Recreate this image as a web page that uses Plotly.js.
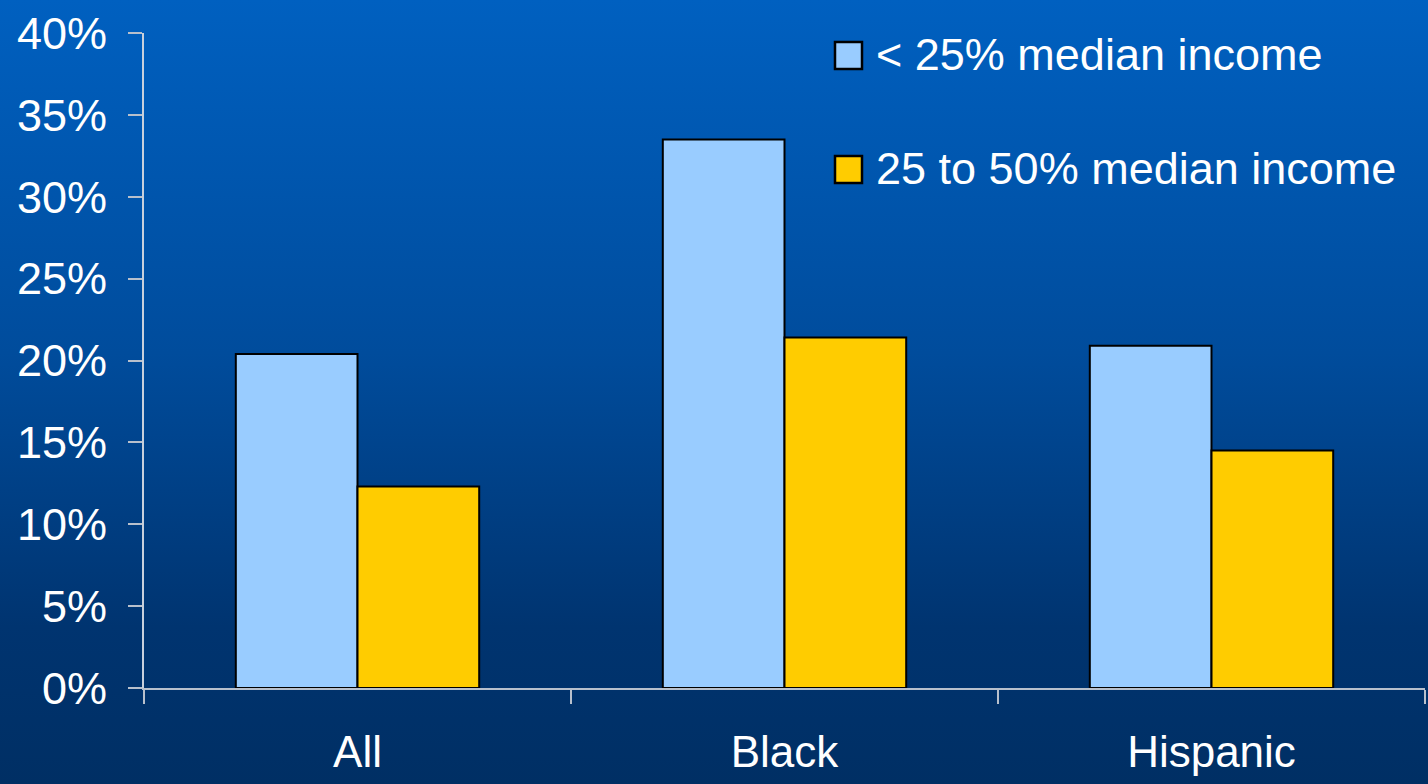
<!DOCTYPE html>
<html>
<head>
<meta charset="utf-8">
<script src="https://cdn.plot.ly/plotly-3.0.1.min.js"></script>
<style>
  html, body { margin: 0; padding: 0; width: 1428px; height: 784px; overflow: hidden; }
  body { background: linear-gradient(to bottom, #0060c0 0%, #004c9c 45%, #003470 80%, #002f64 100%); }
  #chart { width: 1428px; height: 784px; }
</style>
</head>
<body>
<div id="chart"></div>
<script>
// Share of households by income bracket, per group
const categories = ['All', 'Black', 'Hispanic'];
const seriesNames = ['< 25% median income', '25 to 50% median income'];
const below25 = [0.204, 0.335, 0.209];
const from25to50 = [0.123, 0.214, 0.145];
const yTicks = [0, 0.05, 0.10, 0.15, 0.20, 0.25, 0.30, 0.35, 0.40];
const yTickLabels = ['0%', '5%', '10%', '15%', '20%', '25%', '30%', '35%', '40%'];

const colors = ['#99ccff', '#ffcc00'];
const font = 'Liberation Sans, Arial, sans-serif';

const W = 1428, H = 784;
const margin = { l: 144, r: 3, t: 33, b: 96 };
const pw = W - margin.l - margin.r, ph = H - margin.t - margin.b;
// pixel -> paper helpers for the legend block
const px = x => (x - margin.l) / pw;
const py = y => (H - margin.b - y) / ph;

const traces = [below25, from25to50].map((vals, i) => ({
  type: 'bar',
  name: seriesNames[i],
  x: categories,
  y: vals,
  marker: { color: colors[i], line: { color: '#000000', width: 2 } },
  hoverinfo: 'skip',
  showlegend: false
}));

// Hand-built legend: square swatch + label per series
const legendRows = [55.5, 169.5];
const shapes = legendRows.map((cy, i) => ({
  type: 'rect', xref: 'paper', yref: 'paper',
  x0: px(835), x1: px(862), y0: py(cy + 13.5), y1: py(cy - 13.5),
  fillcolor: colors[i], line: { color: '#000000', width: 2.5 }
}));
const annotations = legendRows.map((cy, i) => ({
  xref: 'paper', yref: 'paper', x: px(874), y: py(cy - 1),
  xanchor: 'left', yanchor: 'middle', showarrow: false,
  text: seriesNames[i].replace('<', '&lt;'),
  font: { family: font, size: 45, color: '#ffffff' }
}));

const layout = {
  width: W, height: H,
  margin: margin,
  paper_bgcolor: 'rgba(0,0,0,0)',
  plot_bgcolor: 'rgba(0,0,0,0)',
  barmode: 'group',
  bargap: 0.43,
  bargroupgap: 0,
  showlegend: false,
  font: { family: font, color: '#ffffff', size: 44 },
  xaxis: {
    type: 'category',
    showline: true, linecolor: '#b8c0cc', linewidth: 2,
    ticks: 'outside', tickson: 'boundaries', ticklen: 14, tickcolor: '#b8c0cc', tickwidth: 2,
    showgrid: false, zeroline: false,
    ticklabelstandoff: 24,
    tickfont: { family: font, size: 44, color: '#ffffff' }
  },
  yaxis: {
    range: [0, 0.40],
    tickvals: yTicks, ticktext: yTickLabels,
    showline: true, linecolor: '#c8d0dc', linewidth: 2,
    ticks: 'outside', ticklen: 14, tickcolor: '#b8c0cc', tickwidth: 2,
    showgrid: false, zeroline: false,
    ticklabelstandoff: 12,
    tickfont: { family: font, size: 45, color: '#ffffff' }
  },
  shapes: shapes,
  annotations: annotations
};

Plotly.newPlot('chart', traces, layout, { staticPlot: true, displayModeBar: false });
</script>
</body>
</html>
